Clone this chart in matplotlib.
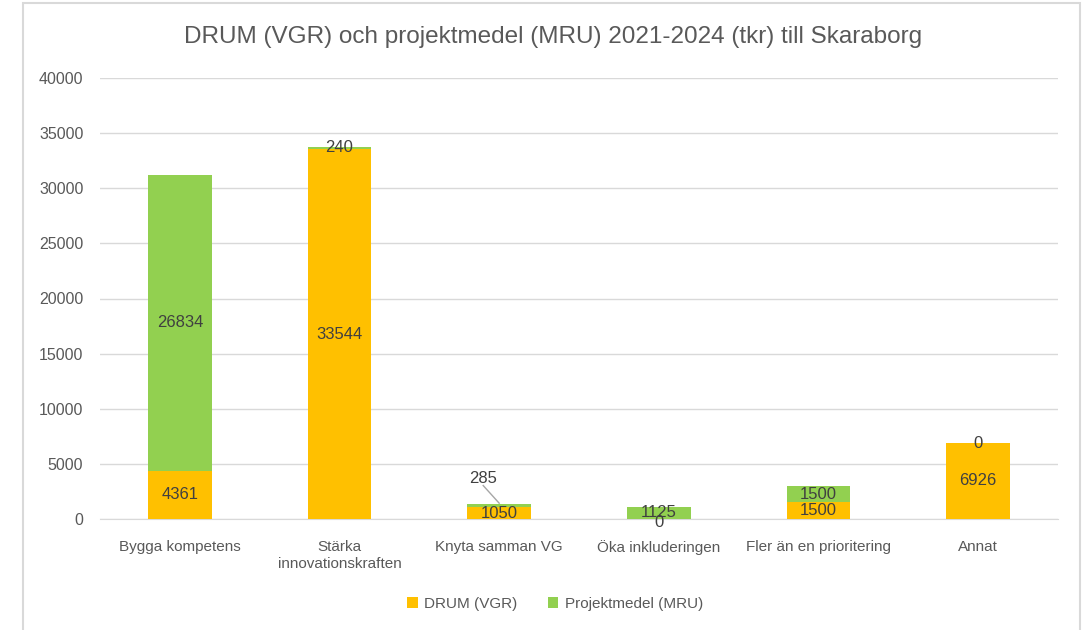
import matplotlib.pyplot as plt
from matplotlib.patches import Rectangle
import numpy as np

# data
categories = ["Bygga kompetens", "Stärka\ninnovationskraften", "Knyta samman VG",
              "Öka inkluderingen", "Fler än en prioritering", "Annat"]
drum = [4361, 33544, 1050, 0, 1500, 6926]
mru = [26834, 240, 285, 1125, 1500, 0]

yellow = "#FFC000"
green = "#92D050"
txt = "#595959"

plt.rcParams["font.family"] = ["Liberation Sans", "DejaVu Sans"]

fig = plt.figure(figsize=(10.87, 6.3), dpi=100)
# ram runt diagrammet
fig.patches.append(Rectangle((23 / 1087, -0.01), (1080 - 23) / 1087, 1 - 3 / 630 + 0.01,
                             transform=fig.transFigure, fill=False,
                             edgecolor="#d9d9d9", linewidth=1.5))
ax = fig.add_axes([100 / 1087, 1 - 519 / 630, (1058 - 100) / 1087, (519 - 78) / 630])

x = np.arange(len(categories))
w = 0.4
ax.bar(x, drum, w, color=yellow, label="DRUM (VGR)", zorder=3)
ax.bar(x, mru, w, bottom=drum, color=green, label="Projektmedel (MRU)", zorder=3)

ax.set_ylim(0, 40000)
ax.set_xlim(-0.5, len(categories) - 0.5)
ax.set_yticks(np.arange(0, 40001, 5000))
ax.grid(axis="y", color="#d9d9d9", linewidth=1, zorder=0)
for s in ax.spines.values():
    s.set_visible(False)
ax.spines["bottom"].set_visible(True)
ax.spines["bottom"].set_color("#d9d9d9")
ax.tick_params(length=0, labelsize=11, colors=txt)
ax.set_xticks(x)
ax.set_xticklabels(categories, linespacing=1.25, va="top")
ax.tick_params(axis="x", pad=15)
ax.tick_params(axis="y", pad=12, labelsize=11.5)

# etiketter
fs = 12
for i in range(len(categories)):
    d, m = drum[i], mru[i]
    # DRUM
    if d > 0:
        ax.text(x[i], d / 2, str(d), ha="center", va="center", fontsize=fs, color="#404040", zorder=4)
    else:
        ax.text(x[i], -300, str(d), ha="center", va="center", fontsize=fs, color="#404040", zorder=4)
    # MRU
    if i == 2:
        ax.text(x[i] - 0.1, d + m + 2300, str(m), ha="center", va="center", fontsize=fs, color="#404040", zorder=4)
        ax.plot([x[i] - 0.1, x[i]], [d + m + 1700, d + m + 100], color="#a6a6a6", lw=1, zorder=4)
    elif m < 1000:
        ax.text(x[i], d + m - 100, str(m), ha="center", va="center", fontsize=fs, color="#404040", zorder=4)
    else:
        ax.text(x[i], d + m / 2, str(m), ha="center", va="center", fontsize=fs, color="#404040", zorder=4)

fig.text(553 / 1087, 1 - 37 / 630, "DRUM (VGR) och projektmedel (MRU) 2021-2024 (tkr) till Skaraborg",
         ha="center", va="center", fontsize=17.5, color=txt)

fig.legend(loc="center", bbox_to_anchor=(555 / 1087, 1 - 604 / 630), ncol=2, frameon=False,
           fontsize=11, labelcolor=txt, handlelength=0.7, handleheight=0.7,
           handletextpad=0.4, columnspacing=2)

plt.savefig("out.png", dpi=100)
